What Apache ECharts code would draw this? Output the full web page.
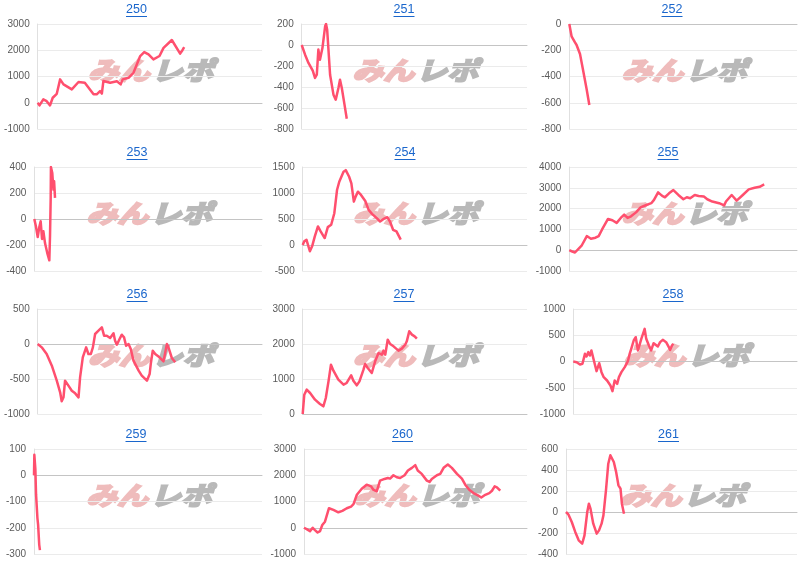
<!DOCTYPE html>
<html><head><meta charset="utf-8">
<script src="https://cdn.jsdelivr.net/npm/echarts@6/dist/echarts.min.js"></script>
<style>html,body{margin:0;padding:0;background:#fff}#c{width:800px;height:565px}</style>
</head><body><div id="c"></div><script>
const titles = ['250','251','252','253','254','255','256','257','258','259','260','261'];
const yMin  = [-1000,-800,-800,-400,-500,-1000,-1000,0,-1000,-300,-1000,-400];
const yMax  = [3000,200,0,400,1500,4000,500,3000,1000,100,3000,600];
const yStep = [1000,200,200,200,500,1000,500,1000,500,100,1000,200];

const d250 = [[0,0],[0.8,-100],[2.5,130],[4,60],[5.5,-100],[6.7,190],[8.5,340],[10,890],[11.5,700],[15.2,510],[18.2,790],[21,760],[24.9,320],[26.3,320],[27.8,440],[28.6,350],[29.3,830],[32.3,760],[35.3,820],[37,700],[37.9,890],[40.5,950],[42.7,1140],[45.7,1780],[47.5,1930],[49.4,1840],[51.6,1650],[54.3,1780],[56.1,2090],[59.8,2390],[60.6,2350],[63.5,1870],[64.3,1970],[65.3,2120]];
const d251 = [[0,0],[1.5,-92],[3,-171],[4.9,-244],[5.9,-314],[6.7,-283],[7.4,-44],[8.1,-140],[9.2,-29],[10.4,178],[10.8,200],[11.3,146],[12.6,-283],[14.1,-473],[15.1,-521],[16.3,-410],[17,-330],[17.8,-410],[19,-568],[20,-702]];
const d252 = [[0,0],[1,-94],[2.5,-140],[3.2,-160],[4.7,-229],[6.1,-356],[7.6,-495],[8.8,-617]];
const d253 = [[0,0],[0.7,-56],[1.5,-138],[2.2,-62],[2.8,-18],[3.4,-154],[4,-95],[4.7,-185],[5.7,-262],[6.6,-318],[6.9,-133],[7.2,162],[7.3,400],[7.9,354],[8.4,226],[8.7,290],[9.1,162]];
const d254 = [[0,0],[0.7,70],[1.7,100],[3.2,-120],[4.2,-25],[5.4,165],[6.8,357],[8,261],[9.8,134],[11.2,344],[12.7,389],[14.1,611],[15.3,1057],[16.3,1217],[18.2,1408],[19.2,1439],[20.7,1312],[21.7,1185],[22.8,834],[23.6,930],[24.6,1025],[26,962],[27.9,847],[29.4,675],[30.9,599],[33,516],[34.5,452],[35.9,497],[37.7,535],[38.9,452],[40.3,293],[41.8,261],[43.7,102]];
const d255 = [[0,0],[1,-50],[2.5,-110],[3.3,-30],[5.5,237],[7.7,680],[8.5,760],[9.5,553],[11.5,600],[12.9,680],[14.4,996],[17,1502],[18.9,1439],[20.8,1312],[22.6,1550],[24.1,1708],[25.6,1550],[27.1,1628],[29.3,1818],[31.3,2055],[33.3,2150],[36,2260],[37.2,2419],[39,2783],[40.8,2609],[42,2545],[43.8,2735],[45.7,2893],[47.9,2656],[50.1,2450],[51.6,2545],[53.1,2498],[55.1,2656],[56.8,2609],[59.1,2577],[60.6,2450],[62.8,2340],[65.8,2260],[68,2150],[68.8,2340],[71.3,2656],[72.2,2545],[73.5,2387],[76.2,2656],[78.8,2925],[81.4,3000],[83.6,3050],[85.6,3160]];
const d256 = [[0,0],[1.8,-48],[4,-143],[6.3,-310],[8.5,-524],[10,-690],[10.7,-819],[11.5,-762],[12.2,-524],[13.7,-595],[15.2,-667],[16.7,-705],[18.2,-762],[18.9,-476],[20.1,-190],[21.6,-48],[22.6,-143],[23.7,-143],[24.6,-48],[25.6,143],[27.1,190],[28.6,238],[29.6,119],[30.8,119],[32.3,86],[33.8,152],[34.5,48],[35.3,-10],[36.5,71],[37.5,133],[38.5,95],[39.4,-24],[40.5,0],[41.5,-71],[42.7,-238],[45,-381],[46.4,-452],[48.7,-524],[49.9,-429],[50.4,-286],[51.3,-95],[52.4,-143],[54.3,-190],[56.1,-248],[57.6,0],[58.3,-48],[59.8,-200],[61.3,-262]];
const d257 = [[0,0],[0.7,552],[1.8,695],[3.3,600],[5.5,410],[7.7,286],[9.2,219],[10.3,457],[11.5,933],[12.6,1410],[13.7,1238],[15.9,981],[18.2,838],[19.6,886],[21.6,1105],[22.6,952],[24.1,819],[25.3,933],[27.1,1267],[27.8,1429],[29,1314],[30.8,1171],[32.3,1505],[33.8,1743],[35.3,1695],[36,1810],[36.8,1695],[37.9,2124],[39,2000],[40.5,1933],[42.7,1810],[44.2,1867],[45.7,1981],[46.4,2076],[47.5,2362],[48.7,2267],[49.9,2219],[50.9,2152]];
const d258 = [[0,0],[1.5,-13],[3,-57],[4.1,-44],[5.2,146],[5.9,95],[6.7,178],[7.4,114],[8.1,210],[9.2,19],[10.4,-184],[11.6,-32],[12.6,-203],[13.6,-298],[15.1,-362],[16.6,-457],[17.5,-565],[18.5,-362],[19.6,-425],[20.4,-298],[21.5,-203],[23,-108],[24.4,6],[25.2,146],[25.9,241],[27,400],[27.9,463],[28.9,210],[30.4,432],[31.1,463],[31.9,622],[32.6,432],[33.8,305],[34.8,210],[35.9,349],[36.7,387],[37.8,286],[38.8,368],[40,413],[40.7,432],[41.5,368],[42.7,273],[43.3,222],[44.1,305],[44.7,337]];
const d259 = [[0,0],[0.15,78],[0.6,23],[0.9,-73],[1.5,-163],[1.8,-188],[2.3,-265],[2.6,-285]];
const d260 = [[0,0],[1.2,-50],[2.7,-128],[3.9,0],[4.9,-90],[6.1,-180],[7.2,-128],[8.2,103],[9.4,231],[11.2,744],[13.2,679],[15.4,590],[17.2,641],[19.2,744],[21.1,808],[22.2,897],[23.7,1256],[25.9,1487],[28.1,1641],[30.1,1577],[31.1,1449],[32.6,1385],[34.1,1795],[36.1,1859],[37.6,1897],[38.6,1872],[40.1,2000],[41.6,1923],[43.1,1897],[45.1,2000],[46.6,2180],[48.4,2282],[49.9,2385],[51,2180],[52.8,2051],[55.1,1795],[56.3,1744],[57.3,1859],[59.6,2000],[61.1,2051],[62.6,2282],[64.5,2410],[66.3,2282],[68.6,2051],[70.8,1872],[72.3,1641],[74.1,1449],[76,1321],[78,1231],[79.5,1154],[81.3,1256],[83.1,1321],[84.3,1410],[85.5,1577],[86.5,1539],[88,1410]];
const d261 = [[0,0],[1,-22],[2.5,-95],[4,-190],[5.5,-270],[7,-302],[8,-222],[9.2,0],[9.9,79],[10.6,32],[11.8,-111],[13.3,-206],[14.3,-175],[15.4,-111],[16.2,-32],[17.3,206],[18.3,460],[19.2,540],[19.9,556],[20.7,476],[21.7,381],[22.7,254],[23.6,222],[23.9,238],[24.2,79],[25.1,-16]];
const seriesData = [d250,d251,d252,d253,d254,d255,d256,d257,d258,d259,d260,d261];

// layout (pixels)
const colRight = [262, 527, 797];
const rowTop = [24, 167, 309, 449];
const rowH = [105, 104, 105, 105];
const plotLeft = [37.7, 301.7, 569.3, 34.3, 302.7, 569.3, 37.7, 302.7, 573.3, 34, 304, 566];
const titleX = [136.5, 404, 672, 137, 405, 668, 137, 404, 673, 136, 402.5, 668.5];

const LINE = '#ff4f6e', BLUE = '#1a66cc';
const PINK = '#efbcbc', GRAY = '#b9b9b9';
const grid = [], xAxis = [], yAxis = [], series = [], graphic = [];
titles.forEach((t, i) => {
  const r = Math.floor(i / 3), c = i % 3;
  const left = plotLeft[i], w = colRight[c] - left, top = rowTop[r], h = rowH[r];
  grid.push({left: left, top: top, width: w, height: h});
  xAxis.push({gridIndex: i, type: 'value', min: 0, max: 100,
    axisLabel: {show: false}, axisTick: {show: false}, splitLine: {show: false},
    axisLine: {show: true, onZero: true, lineStyle: {color: '#c4c4c4', width: 1}}});
  yAxis.push({gridIndex: i, type: 'value', min: yMin[i], max: yMax[i], interval: yStep[i],
    axisLine: {show: true, lineStyle: {color: '#e0e0e0'}}, axisTick: {show: false},
    splitLine: {lineStyle: {color: '#ebebeb'}},
    axisLabel: {fontSize: 10, color: '#5a5a5a', fontFamily: 'Arial, "Liberation Sans"', margin: 8, formatter: v => String(v)}});
  series.push({type: 'line', xAxisIndex: i, yAxisIndex: i, data: seriesData[i],
    symbol: 'none', showSymbol: false, z: 5,
    lineStyle: {color: LINE, width: 2.5, join: 'round'}, itemStyle: {color: LINE}});
  const ty = top - 14;
  graphic.push({type: 'text', x: titleX[i], y: ty, z: 10,
    style: {text: t, fill: BLUE, font: '12.5px Arial, "Liberation Sans"', textAlign: 'center', textVerticalAlign: 'middle', align: 'center', verticalAlign: 'middle'}});
  graphic.push({type: 'rect', z: 10, shape: {x: titleX[i] - 10.5, y: ty + 6, width: 21, height: 1}, style: {fill: BLUE}});
  const cx = left + w / 2 + 1, cy = top + 46;
  graphic.push({type: 'text', x: cx - 1, y: cy, z: 0, scaleY: 0.82, originX: 0, originY: 0,
    style: {text: 'みん', fill: PINK, stroke: PINK, lineWidth: 2.6, font: 'italic bold 31px "Noto Sans CJK JP"', textAlign: 'right', textVerticalAlign: 'middle', align: 'right', verticalAlign: 'middle'}});
  graphic.push({type: 'text', x: cx + 1, y: cy, z: 0, scaleY: 0.82, originX: 0, originY: 0,
    style: {text: 'レポ', fill: GRAY, stroke: GRAY, lineWidth: 2.6, font: 'italic bold 31px "Noto Sans CJK JP"', textAlign: 'left', textVerticalAlign: 'middle', align: 'left', verticalAlign: 'middle'}});
});

const chart = echarts.init(document.getElementById('c'), null, {renderer: 'canvas'});
chart.setOption({animation: false, backgroundColor: '#fff', grid, xAxis, yAxis, series, graphic});
</script></body></html>
